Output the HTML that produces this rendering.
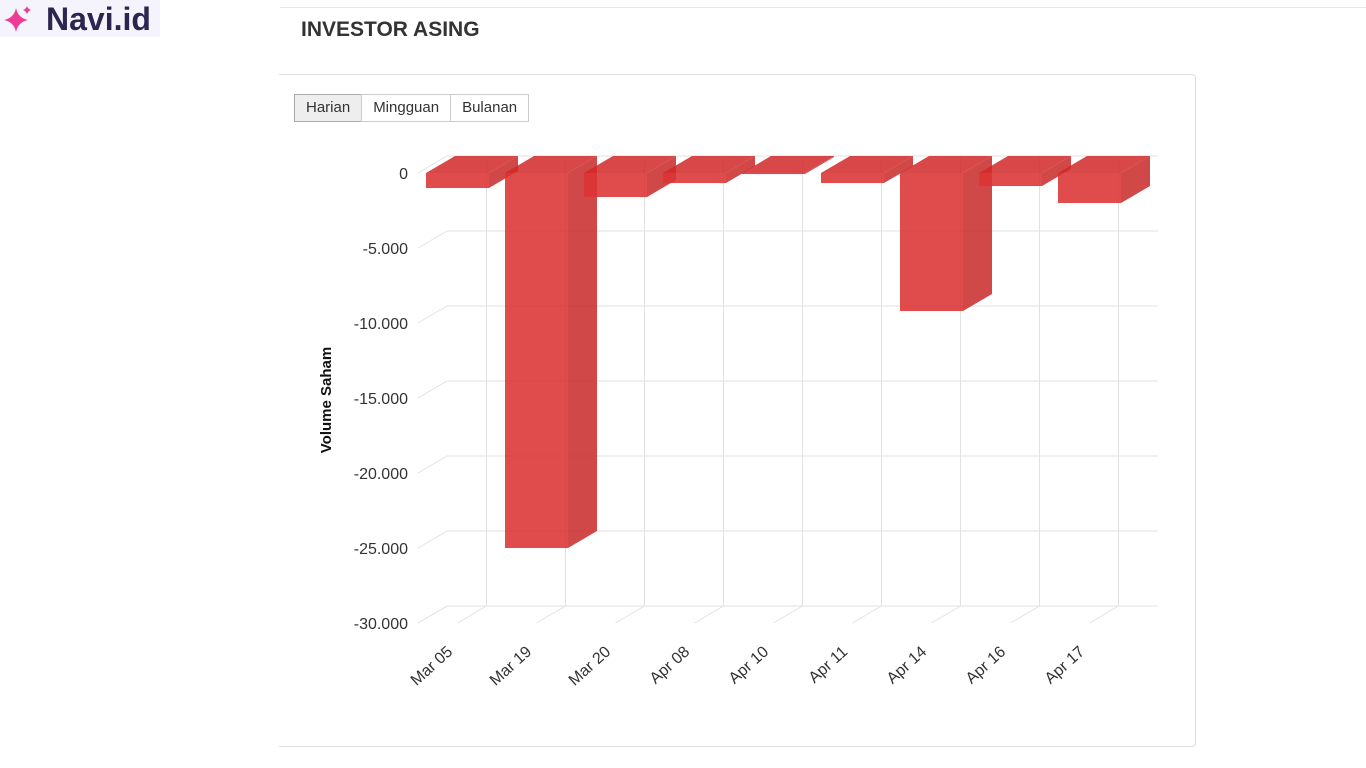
<!DOCTYPE html>
<html><head><meta charset="utf-8"><style>
body{margin:0;width:1366px;height:768px;background:#fff;font-family:"Liberation Sans","DejaVu Sans",sans-serif;position:relative;overflow:hidden}
.logo{position:absolute;left:0;top:0;width:160px;height:37px;background:#f5f3fb;}
.logo span{position:absolute;left:46px;top:1px;font-size:32px;font-weight:bold;color:#2b2550}
.topline{position:absolute;left:280px;top:7px;width:1086px;height:1px;background:#e6e6ea}
.title{position:absolute;left:301px;top:18px;font-size:21px;font-weight:bold;color:#333}
.card{position:absolute;left:279px;top:74px;width:916px;height:671px;border:1px solid #ddd;border-left:none;border-radius:0 4px 4px 0}
.btns{position:absolute;left:295px;top:94px;display:flex}
.btns div{border:1px solid #ccc;height:26px;line-height:26px;font-size:15px;color:#333;padding:0 11px;margin-left:-1px;background:#fff}
.btns div.on{background:#eee;border-color:#aaa}
svg{position:absolute;left:0;top:0}
</style></head><body>
<div class="logo"><svg width="40" height="37" style="position:relative"><path d="M16 8 Q18 18 28 20 Q18 22 16 32 Q14 22 4 20 Q14 18 16 8Z" fill="#ee3b95"/><path d="M27 6 Q28 9 31 10 Q28 11 27 14 Q26 11 23 10 Q26 9 27 6Z" fill="#ee3b95"/></svg><span>Navi.id</span></div>
<div class="topline"></div>
<div class="title">INVESTOR ASING</div>
<div class="card"></div>
<div class="btns">
<div class="on">Harian</div>
<div>Mingguan</div>
<div>Bulanan</div>
</div>
<svg id="chart" width="1366" height="768"></svg>
<script>
const categories=["Mar 05","Mar 19","Mar 20","Apr 08","Apr 10","Apr 11","Apr 14","Apr 16","Apr 17"];
const values=[-1000,-25000,-1600,-670,-70,-670,-9200,-870,-2000];
const tickValues=[0,-5000,-10000,-15000,-20000,-25000,-30000];
const tickLabels=["0","-5.000","-10.000","-15.000","-20.000","-25.000","-30.000"];

const NS="http://www.w3.org/2000/svg";
const svg=document.getElementById('chart');
const DX=29,DY=-17,left=418,step=79,bw=63,y0=173,ppu=15/1000;
function yS(v){return y0-v*ppu;}
function xC(i){return left+step*(i+0.5);}
function el(t,a,p){const e=document.createElementNS(NS,t);for(const k in a)e.setAttribute(k,a[k]);(p||svg).appendChild(e);return e;}
const plotR=left+step*categories.length;
tickValues.forEach((v,i)=>{
  const y=yS(v);
  const g=el('line',{x1:left+DX,y1:y+DY,x2:plotR+DX,y2:y+DY,stroke:'#e2e2e2'});
  
  
  const d=el('line',{x1:left,y1:y,x2:left+DX,y2:y+DY,stroke:'#e2e2e2'});
  
  
  const t=el('text',{x:408,y:y+6,'text-anchor':'end','font-size':16,fill:'#333'});
  t.textContent=tickLabels[i];
  
  
});
const yb=yS(-30000);
categories.forEach((c,i)=>{
  const x=xC(i);
  const v=el('line',{x1:x+DX,y1:yS(0)+DY,x2:x+DX,y2:yb+DY,stroke:'#e2e2e2'});
  
  
  const f=el('line',{x1:x+DX,y1:yb+DY,x2:x,y2:yb,stroke:'#e2e2e2'});
  
  
  const t=el('text',{x:x-4,y:yb+30,'text-anchor':'end','font-size':16,fill:'#333',transform:`rotate(-42 ${x-4} ${yb+30})`});
  t.textContent=c;
  
  
});
el('line',{x1:left,y1:yb,x2:left+DX,y2:yb+DY,stroke:'#e2e2e2'});
el('line',{x1:left+DX,y1:yb+DY,x2:plotR+DX,y2:yb+DY,stroke:'#e2e2e2'});
categories.forEach((c,i)=>{
  const g=el('g',{});
  
  
  const x1=xC(i)-bw/2,x2=xC(i)+bw/2,yt=yS(0),ybot=yS(values[i]);
  el('polygon',{points:`${x2},${yt} ${x2+DX},${yt+DY} ${x2+DX},${ybot+DY} ${x2},${ybot}`,fill:'rgba(200,40,40,0.85)'},g);
  el('polygon',{points:`${x1},${yt} ${x1+DX},${yt+DY} ${x2+DX},${yt+DY} ${x2},${yt}`,fill:'rgba(210,40,40,0.85)'},g);
  el('rect',{x:x1,y:yt,width:bw,height:ybot-yt,fill:'rgba(220,50,50,0.88)'},g);
});
const at=el('text',{x:331,y:400,'text-anchor':'middle','font-size':15,'font-weight':'bold',fill:'#111',transform:'rotate(-90 331 400)'});
at.textContent='Volume Saham';


</script>
</body></html>
